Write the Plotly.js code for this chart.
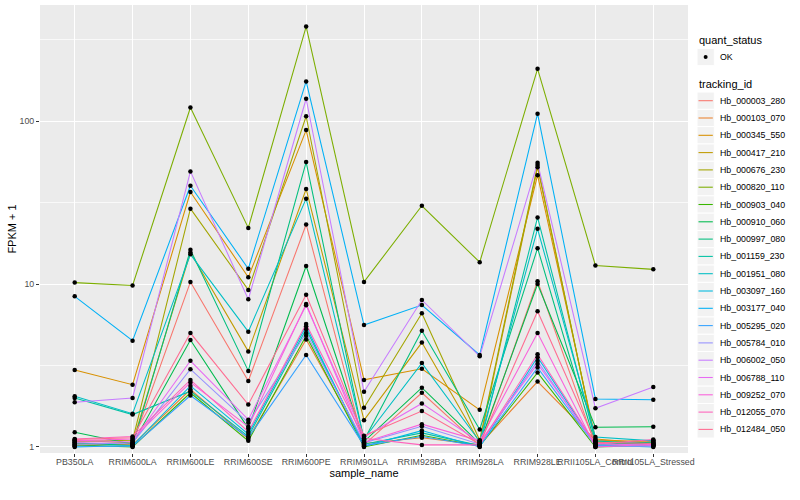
<!DOCTYPE html>
<html>
<head>
<meta charset="utf-8">
<script src="https://cdn.plot.ly/plotly-3.0.1.min.js"></script>
<style>html,body{margin:0;padding:0;background:#fff;}#chart{width:800px;height:500px;}</style>
</head>
<body>
<div id="chart"></div>
<script>
// ---- data ----
const sampleNames = ["PB350LA","RRIM600LA","RRIM600LE","RRIM600SE","RRIM600PE","RRIM901LA","RRIM928BA","RRIM928LA","RRIM928LE","RRII105LA_Control","RRII105LA_Stressed"];
const trackingIds = ["Hb_000003_280","Hb_000103_070","Hb_000345_550","Hb_000417_210","Hb_000676_230","Hb_000820_110","Hb_000903_040","Hb_000910_060","Hb_000997_080","Hb_001159_230","Hb_001951_080","Hb_003097_160","Hb_003177_040","Hb_005295_020","Hb_005784_010","Hb_006002_050","Hb_006788_110","Hb_009252_070","Hb_012055_070","Hb_012484_050"];
const quantStatus = ["OK"];
const yTickVals = [1, 10, 100];
const yTickText = ["1", "10", "100"];

const Hb_000003_280 = [1.02, 1.05, 10.3, 2.54, 23.2, 1.03, 2.15, 1.02, 10.4, 1.02, 1.06];
const Hb_000103_070 = [1.05, 1.03, 2.25, 1.12, 4.57, 1.05, 1.14, 1.03, 2.52, 1.10, 1.08];
const Hb_000345_550 = [2.97, 2.41, 36.7, 11.0, 88, 2.58, 3.02, 1.69, 46.5, 1.12, 1.05];
const Hb_000417_210 = [1.10, 1.06, 15.6, 3.86, 38.3, 1.46, 4.37, 1.06, 52, 1.08, 1.03];
const Hb_000676_230 = [1.08, 1.10, 29, 9.2, 107, 1.74, 6.61, 1.10, 53.7, 1.06, 1.10];
const Hb_000820_110 = [10.2, 9.8, 121, 22.1, 380, 10.3, 30.2, 13.6, 209, 13.0, 12.3];
const Hb_000903_040 = [1.03, 1.00, 2.15, 1.09, 4.82, 1.00, 1.18, 1.01, 2.86, 1.00, 1.02];
const Hb_000910_060 = [1.23, 1.04, 4.53, 1.30, 12.9, 1.08, 2.31, 1.05, 10.0, 1.32, 1.33];
const Hb_000997_080 = [1.06, 1.02, 16.2, 2.93, 56, 1.10, 5.17, 1.28, 16.6, 1.04, 1.07];
const Hb_001159_230 = [2.00, 1.58, 2.20, 1.16, 5.27, 1.04, 1.22, 1.02, 25.6, 1.09, 1.04];
const Hb_001951_080 = [2.05, 1.60, 15.2, 5.1, 33.4, 1.12, 3.27, 1.08, 21.8, 1.15, 1.09];
const Hb_003097_160 = [1.00, 1.02, 2.37, 1.20, 5.5, 1.01, 1.26, 1.00, 3.55, 1.03, 1.00];
const Hb_003177_040 = [8.4, 4.49, 40.1, 12.4, 175, 5.6, 7.43, 3.67, 111, 1.97, 1.95];
const Hb_005295_020 = [1.01, 1.01, 2.07, 1.14, 3.67, 1.02, 1.16, 1.01, 3.07, 1.02, 1.03];
const Hb_005784_010 = [1.04, 1.06, 3.00, 1.41, 5.0, 1.06, 1.34, 1.04, 3.37, 1.01, 1.01];
const Hb_006002_050 = [1.88, 2.00, 49.1, 8.05, 137, 2.18, 7.98, 3.60, 55.4, 1.73, 2.33];
const Hb_006788_110 = [1.07, 1.08, 3.38, 1.47, 7.4, 1.15, 1.85, 1.07, 3.23, 1.05, 1.02];
const Hb_009252_070 = [1.09, 1.12, 2.49, 1.33, 7.54, 1.07, 1.38, 1.09, 5.0, 1.00, 1.04];
const Hb_012055_070 = [1.12, 1.16, 2.58, 1.24, 5.69, 1.13, 1.03, 1.03, 3.70, 1.04, 1.11];
const Hb_012484_050 = [1.11, 1.14, 5.0, 1.82, 8.6, 1.17, 1.66, 1.04, 6.8, 1.07, 1.05];

const seriesValues = [Hb_000003_280, Hb_000103_070, Hb_000345_550, Hb_000417_210, Hb_000676_230, Hb_000820_110, Hb_000903_040, Hb_000910_060, Hb_000997_080, Hb_001159_230, Hb_001951_080, Hb_003097_160, Hb_003177_040, Hb_005295_020, Hb_005784_010, Hb_006002_050, Hb_006788_110, Hb_009252_070, Hb_012055_070, Hb_012484_050];

// ---- style ----
const palette = ["#F8766D","#EA8331","#D89000","#C09B00","#A3A500","#7CAE00","#39B600","#00BB4E","#00BF7D","#00C1A3","#00BFC4","#00BAE0","#00B0F6","#35A2FF","#9590FF","#C77CFF","#E76BF3","#FA62DB","#FF62BC","#FF6C91"];
const FONT = '"Liberation Sans", Arial, Helvetica, sans-serif';
const W = 800, H = 500, M = {l: 40, r: 112, t: 5, b: 47};

const traces = [];
trackingIds.forEach((id, i) => {
  traces.push({
    type: 'scatter', mode: 'lines', name: id,
    x: sampleNames, y: seriesValues[i],
    line: {color: palette[i], width: 1.07},
    showlegend: false, hoverinfo: 'skip'
  });
});
const allX = [], allY = [];
seriesValues.forEach(vals => vals.forEach((v, j) => { allX.push(sampleNames[j]); allY.push(v); }));
traces.push({
  type: 'scatter', mode: 'markers', name: quantStatus[0],
  x: allX, y: allY,
  marker: {color: '#000', size: 4.5},
  showlegend: false, hoverinfo: 'skip'
});

// ---- manual ggplot-style legend (paper coords from pixels) ----
const px = x => (x - M.l) / (W - M.l - M.r);
const py = y => 1 - (y - M.t) / (H - M.t - M.b);
const shapes = [], annotations = [];
const LX = 697, KEY = 17.3, LBL = 717.5;
function title(text, yc) {
  annotations.push({xref: 'paper', yref: 'paper', x: px(LX), y: py(yc), xanchor: 'left', yanchor: 'middle',
    text: text, showarrow: false, font: {size: 11, color: '#000', family: FONT}});
}
function keyBox(yc) {
  shapes.push({type: 'rect', xref: 'paper', yref: 'paper', x0: px(LX), x1: px(LX + KEY), y0: py(yc - KEY / 2), y1: py(yc + KEY / 2),
    fillcolor: '#F2F2F2', line: {color: '#FFFFFF', width: 1}, layer: 'above'});
}
function label(text, yc) {
  annotations.push({xref: 'paper', yref: 'paper', x: px(LBL), y: py(yc), xanchor: 'left', yanchor: 'middle',
    text: text, showarrow: false, font: {size: 8.8, color: '#000', family: FONT}});
}
title('quant_status', 40);
keyBox(57);
shapes.push({type: 'circle', xref: 'paper', yref: 'paper', x0: px(LX + KEY / 2 - 2), x1: px(LX + KEY / 2 + 2), y0: py(57 - 2), y1: py(57 + 2),
  fillcolor: '#000', line: {color: '#000', width: 0}, layer: 'above'});
label(quantStatus[0], 57);
title('tracking_id', 84);
trackingIds.forEach((id, i) => {
  const yc = 100.7 + KEY * i;
  keyBox(yc);
  shapes.push({type: 'line', xref: 'paper', yref: 'paper', x0: px(LX + 1.5), x1: px(LX + KEY - 1.5), y0: py(yc), y1: py(yc),
    line: {color: palette[i], width: 1.07}, layer: 'above'});
  label(id, yc);
});

const layout = {
  width: W, height: H,
  margin: M,
  paper_bgcolor: '#FFFFFF',
  plot_bgcolor: '#EBEBEB',
  font: {family: FONT, size: 9, color: '#4D4D4D'},
  xaxis: {
    type: 'category', categoryorder: 'array', categoryarray: sampleNames,
    range: [-0.6, sampleNames.length - 0.4],
    showgrid: true, gridcolor: '#FFFFFF', gridwidth: 1,
    zeroline: false, showline: false,
    ticks: 'outside', ticklen: 3, tickcolor: '#333333', tickwidth: 1,
    tickangle: 0, automargin: false, ticklabelstandoff: -3,
    tickfont: {size: 8.8, color: '#4D4D4D', family: FONT},
    title: {text: 'sample_name', font: {size: 11, color: '#000', family: FONT}, standoff: 2}
  },
  yaxis: {
    type: 'log',
    range: [-0.037, 2.712],
    tickmode: 'array', tickvals: yTickVals, ticktext: yTickText,
    showgrid: true, gridcolor: '#FFFFFF', gridwidth: 1,
    minor: {tickvals: [3.1623, 31.623, 316.23], showgrid: true, gridcolor: '#FFFFFF', gridwidth: 0.7, ticklen: 0},
    zeroline: false, showline: false,
    ticks: 'outside', ticklen: 3, tickcolor: '#333333', tickwidth: 1,
    automargin: false,
    tickfont: {size: 8.8, color: '#4D4D4D', family: FONT},
    title: {text: 'FPKM + 1', font: {size: 11, color: '#000', family: FONT}, standoff: 0}
  },
  shapes: shapes,
  annotations: annotations,
  showlegend: false
};

Plotly.newPlot('chart', traces, layout, {staticPlot: true, displayModeBar: false});
</script>
</body>
</html>
